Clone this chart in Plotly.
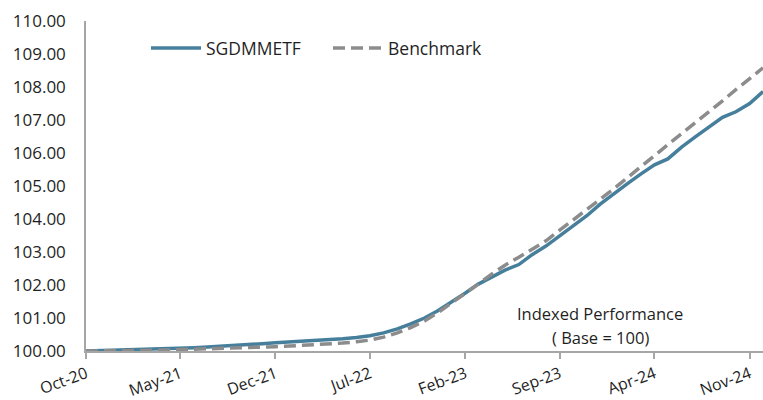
import plotly.graph_objects as go
import pandas as pd

# Monthly dates Oct-20 .. Dec-24
dates = pd.date_range("2020-10-01", "2024-12-01", freq="MS").strftime("%Y-%m-%d").tolist()

sgdm_etf = [
    100.00, 100.01, 100.02, 100.03, 100.05, 100.06, 100.07, 100.08, 100.10, 100.12,
    100.14, 100.16, 100.19, 100.22, 100.25, 100.27, 100.29, 100.31, 100.34, 100.37,
    100.41, 100.46, 100.55, 100.67, 100.82, 101.00, 101.22, 101.48, 101.76, 102.02,
    102.25, 102.45, 102.62, 102.92, 103.18, 103.48, 103.78, 104.10, 104.45, 104.78,
    105.08, 105.36, 105.64, 105.82, 106.18, 106.48, 106.78, 107.08, 107.25, 107.50,
    107.86,
]

benchmark = [
    100.00, 100.00, 100.01, 100.01, 100.02, 100.02, 100.03, 100.04, 100.05, 100.06,
    100.07, 100.08, 100.10, 100.11, 100.13, 100.15, 100.17, 100.19, 100.21, 100.24,
    100.28, 100.33, 100.42, 100.55, 100.71, 100.91, 101.16, 101.45, 101.73, 102.02,
    102.33, 102.60, 102.84, 103.08, 103.34, 103.66, 103.96, 104.28, 104.60, 104.92,
    105.25, 105.58, 105.92, 106.25, 106.58, 106.92, 107.25, 107.58, 107.92, 108.25,
    108.58,
]

tick_dates = ["2020-10-01", "2021-05-01", "2021-12-01", "2022-07-01",
              "2023-02-01", "2023-09-01", "2024-04-01", "2024-11-01"]
tick_labels = ["Oct-20", "May-21", "Dec-21", "Jul-22", "Feb-23", "Sep-23", "Apr-24", "Nov-24"]

FONT = "Open Sans"
TXT = "#1f1f1f"

fig = go.Figure()
fig.add_trace(go.Scatter(
    x=dates, y=sgdm_etf, name="SGDMMETF", mode="lines",
    line=dict(color="#467f9b", width=3.5), cliponaxis=False,
))
fig.add_trace(go.Scatter(
    x=dates, y=benchmark, name="Benchmark", mode="lines",
    line=dict(color="#8c8c8c", width=3.5, dash="12px,6px"), cliponaxis=False,
))

fig.update_layout(
    width=763, height=400,
    margin=dict(l=86, r=0, t=21, b=49, autoexpand=False),
    paper_bgcolor="white", plot_bgcolor="white",
    font=dict(family=FONT, color=TXT, size=17),
    showlegend=True,
    legend=dict(
        orientation="h", x=(146 - 86) / 677, y=0.918, xanchor="left", yanchor="middle",
        bgcolor="rgba(0,0,0,0)", font=dict(size=17.5, color=TXT),
        itemwidth=50, traceorder="normal",
        entrywidth=117, entrywidthmode="pixels",
    ),
    xaxis=dict(
        type="date", range=["2020-10-01", "2024-12-01"], automargin=False,
        tickvals=tick_dates, ticktext=tick_labels, tickangle=-20,
        showgrid=False, zeroline=False,
        showline=True, linecolor="#a6a6a6", linewidth=1.5,
        ticks="outside", ticklen=6, tickcolor="#a6a6a6", tickwidth=1.5,
        tickfont=dict(size=16, color=TXT),
    ),
    yaxis=dict(
        range=[100, 110], dtick=1, tickformat=".2f", automargin=False,
        showgrid=False, zeroline=False,
        showline=True, linecolor="#a6a6a6", linewidth=1.5,
        ticks="", ticklabelstandoff=15,
        tickfont=dict(size=17, color=TXT),
    ),
)

fig.add_annotation(
    text="Indexed Performance", xref="paper", yref="paper",
    x=(600 - 86) / 677, y=(351 - 313) / 330, showarrow=False,
    xanchor="center", yanchor="middle", font=dict(size=16.5, color=TXT),
)
fig.add_annotation(
    text="( Base = 100)", xref="paper", yref="paper",
    x=(600 - 86) / 677, y=(351 - 337) / 330, showarrow=False,
    xanchor="center", yanchor="middle", font=dict(size=16.5, color=TXT),
)

fig.write_html(
    "out.html",
    config={"displayModeBar": False},
    post_script="document.body.style.margin='0';document.body.style.overflow='hidden';",
)
